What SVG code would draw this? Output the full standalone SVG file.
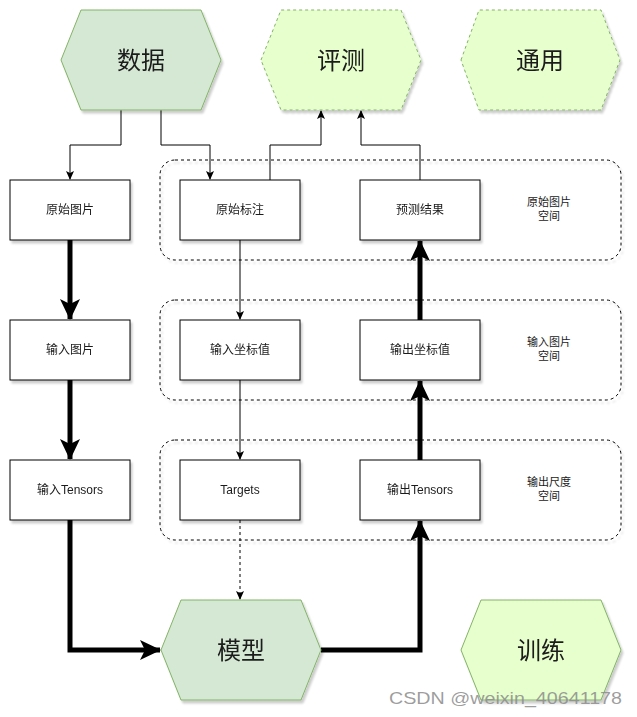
<svg xmlns="http://www.w3.org/2000/svg" width="637" height="717" viewBox="0 0 637 717">
<style>
.hex{stroke:#82b366;stroke-width:1}
.dark{fill:#d5e8d4}
.light{fill:#e6ffcc}
.dash{stroke-dasharray:3 3}
.box{fill:#ffffff;stroke:#000000;stroke-width:1}
.grp{fill:none;stroke:#000000;stroke-width:1;stroke-dasharray:3 3}
.t{font-family:"Liberation Sans","Noto Sans CJK SC",sans-serif;fill:#1a1a1a;text-anchor:middle}
.big{font-size:24px}
.sm{font-size:12px}
.lbl{font-size:11px}
.thin{fill:none;stroke:#000;stroke-width:1}
.thick{fill:none;stroke:#000;stroke-width:5}
</style>
<defs>
<filter id="sh" x="-10%" y="-10%" width="130%" height="130%">
<feGaussianBlur in="SourceAlpha" stdDeviation="1.2"/>
<feOffset dx="2" dy="3" result="o"/>
<feComponentTransfer><feFuncA type="linear" slope="0.2"/></feComponentTransfer>
<feMerge><feMergeNode/><feMergeNode in="SourceGraphic"/></feMerge>
</filter>
<marker id="a1" markerWidth="10" markerHeight="10" refX="8" refY="5" orient="auto" markerUnits="userSpaceOnUse">
<path d="M0,1 L9,5 L0,9 L2,5 Z" fill="#000"/>
</marker>
<marker id="a2" markerWidth="24" markerHeight="24" refX="20" refY="12" orient="auto" markerUnits="userSpaceOnUse">
<path d="M0,2 L21,12 L0,22 L5,12 Z" fill="#000"/>
</marker>
</defs>

<g id="groups" filter="url(#sh)">
<rect class="grp" x="160" y="160" width="461" height="100" rx="15"/>
<rect class="grp" x="160" y="300" width="461" height="100" rx="15"/>
<rect class="grp" x="160" y="440" width="461" height="100" rx="15"/>
</g>

<g id="connectors">
<path class="thin" d="M121,110 V145 H70 V179" marker-end="url(#a1)"/>
<path class="thin" d="M161,110 V145 H210 V179" marker-end="url(#a1)"/>
<path class="thin" d="M270,180 V145 H321 V111" marker-end="url(#a1)"/>
<path class="thin" d="M420,180 V145 H361 V111" marker-end="url(#a1)"/>
<path class="thin" d="M240,240 V319" marker-end="url(#a1)"/>
<path class="thin" d="M240,380 V459" marker-end="url(#a1)"/>
<path class="thin" d="M240,520 V599" stroke-dasharray="3 3" marker-end="url(#a1)"/>
<path class="thick" d="M70,240 V319" marker-end="url(#a2)"/>
<path class="thick" d="M70,380 V459" marker-end="url(#a2)"/>
<path class="thick" d="M70,520 V650 H160" marker-end="url(#a2)"/>
<path class="thick" d="M321,650 H420 V521" marker-end="url(#a2)"/>
<path class="thick" d="M420,460 V381" marker-end="url(#a2)"/>
<path class="thick" d="M420,320 V241" marker-end="url(#a2)"/>
</g>

<g id="n-data" filter="url(#sh)">
<polygon class="hex dark" points="61,60 81,10 201,10 221,60 201,110 81,110"/>
<text class="t big" x="141" y="69">数据</text>
</g>
<g id="n-eval" filter="url(#sh)">
<polygon class="hex light dash" points="261,60 281,10 401,10 421,60 401,110 281,110"/>
<text class="t big" x="341" y="69">评测</text>
</g>
<g id="n-common" filter="url(#sh)">
<polygon class="hex light dash" points="461,60 479,10 601,10 620,60 601,110 479,110"/>
<text class="t big" x="540" y="69">通用</text>
</g>
<g id="n-model" filter="url(#sh)">
<polygon class="hex dark" points="161,650 181,600 301,600 321,650 301,700 181,700"/>
<text class="t big" x="241" y="659">模型</text>
</g>
<g id="n-train" filter="url(#sh)">
<polygon class="hex light" points="461,650 481,600 601,600 621,650 601,700 481,700"/>
<text class="t big" x="541" y="659">训练</text>
</g>

<g id="n-rawimg" filter="url(#sh)"><rect class="box" x="10" y="180" width="120" height="60"/><text class="t sm" x="70" y="214">原始图片</text></g>
<g id="n-rawann" filter="url(#sh)"><rect class="box" x="180" y="180" width="120" height="60"/><text class="t sm" x="240" y="214">原始标注</text></g>
<g id="n-pred" filter="url(#sh)"><rect class="box" x="360" y="180" width="120" height="60"/><text class="t sm" x="420" y="214">预测结果</text></g>
<g id="n-inimg" filter="url(#sh)"><rect class="box" x="10" y="320" width="120" height="60"/><text class="t sm" x="70" y="354">输入图片</text></g>
<g id="n-incoord" filter="url(#sh)"><rect class="box" x="180" y="320" width="120" height="60"/><text class="t sm" x="240" y="354">输入坐标值</text></g>
<g id="n-outcoord" filter="url(#sh)"><rect class="box" x="360" y="320" width="120" height="60"/><text class="t sm" x="420" y="354">输出坐标值</text></g>
<g id="n-intensor" filter="url(#sh)"><rect class="box" x="10" y="460" width="120" height="60"/><text class="t sm" x="70" y="494">输入Tensors</text></g>
<g id="n-targets" filter="url(#sh)"><rect class="box" x="180" y="460" width="120" height="60"/><text class="t sm" x="240" y="494">Targets</text></g>
<g id="n-outtensor" filter="url(#sh)"><rect class="box" x="360" y="460" width="120" height="60"/><text class="t sm" x="420" y="494">输出Tensors</text></g>

<g id="labels">
<text class="t lbl" x="549" y="206">原始图片</text>
<text class="t lbl" x="549" y="220">空间</text>
<text class="t lbl" x="549" y="346">输入图片</text>
<text class="t lbl" x="549" y="360">空间</text>
<text class="t lbl" x="549" y="486">输出尺度</text>
<text class="t lbl" x="549" y="500">空间</text>
</g>

<text x="389" y="704" font-family="'Liberation Sans',sans-serif" font-size="17" fill="#8c8c8c" fill-opacity="0.85" textLength="233" lengthAdjust="spacingAndGlyphs">CSDN @weixin_40641178</text>
</svg>
